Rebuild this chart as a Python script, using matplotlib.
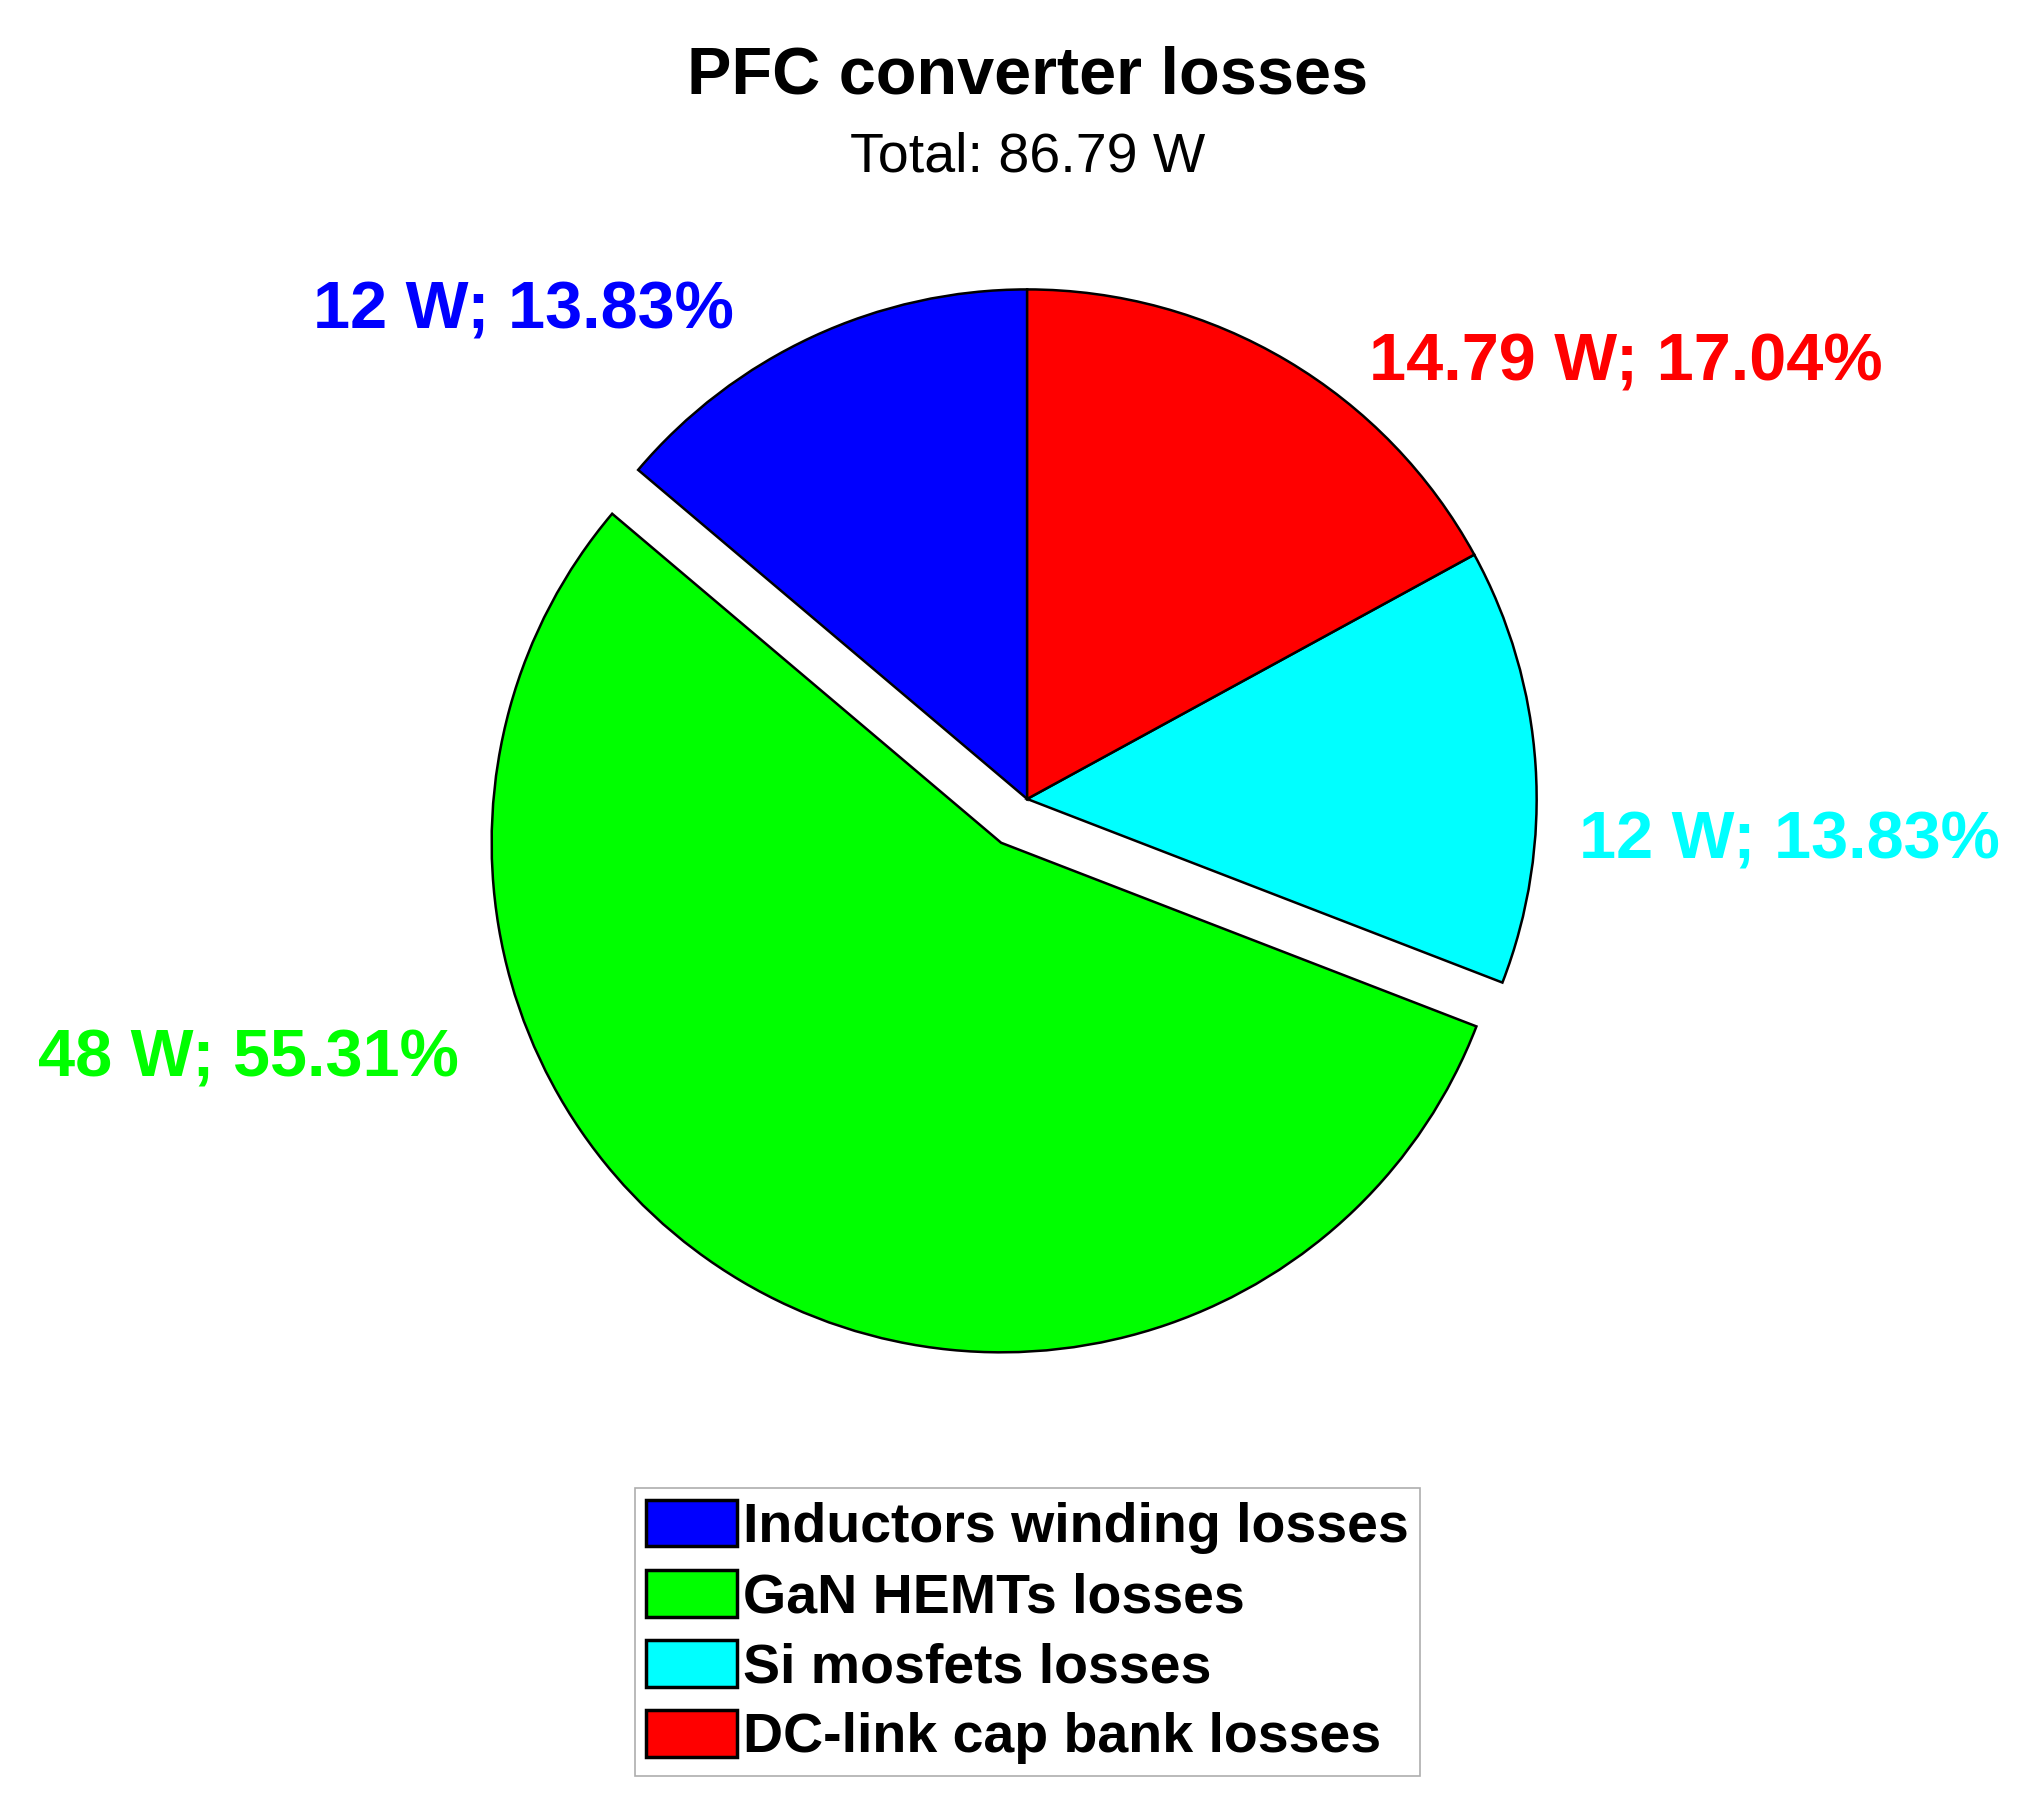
import matplotlib
matplotlib.use("Agg")
import matplotlib.pyplot as plt

plt.rcParams['font.family'] = ['Liberation Sans', 'DejaVu Sans']

# Datos del gráfico
names = ['Inductors winding losses', 'GaN HEMTs losses',
         'Si mosfets losses', 'DC-link cap bank losses']
watts = [12, 48, 12, 14.79]
colors = ['#0000ff', '#00ff00', '#00ffff', '#ff0000']
explode = [0, 0.1, 0, 0]

total = sum(watts)
texts = ['%g W; %.2f%%' % (w, 100.0 * w / total) for w in watts]

# Posición de las etiquetas (en radios desde el centro)
label_pos = [(-0.575, 0.924, 'right'), (-1.115, -0.544, 'right'),
             (1.084, -0.116, 'left'), (0.671, 0.822, 'left')]

fig = plt.figure(figsize=(20.38, 18.16), dpi=100)
ax = fig.add_axes([0, 0, 1, 1])

wedges, _ = ax.pie(watts, colors=colors, explode=explode, startangle=90,
                   counterclock=True,
                   wedgeprops=dict(edgecolor='black', linewidth=1.8))

for t, c, (x, y, ha) in zip(texts, colors, label_pos):
    ax.text(x, y, t, color=c, fontsize=48, fontweight='bold', ha=ha,
            va='baseline')

# Centro del pastel en (1027, 799) px, radio ~509.5 px
ax.set_xlim(-2.016, 1.984)
ax.set_ylim(-1.996, 1.568)
ax.set_aspect('auto')
ax.axis('off')

fig.text(0.504, 1 - 94 / 1816, 'PFC converter losses', fontsize=48,
         fontweight='bold', ha='center', va='baseline')
fig.text(0.504, 1 - 172 / 1816, 'Total: %.2f W' % total, fontsize=40,
         ha='center', va='baseline')

leg = fig.legend(wedges, names, loc='center', bbox_to_anchor=(0.504, 0.1013),
                 prop=dict(size=40, weight='bold'), fancybox=False,
                 edgecolor='#999999', handlelength=1.65, handleheight=0.92,
                 handletextpad=0.1, labelspacing=0.28, borderpad=0.2,
                 borderaxespad=0)
leg.get_frame().set_linewidth(1.2)
for h in leg.legend_handles:
    h.set_linewidth(2.5)

fig.savefig('out.png', dpi=100, facecolor='white')
